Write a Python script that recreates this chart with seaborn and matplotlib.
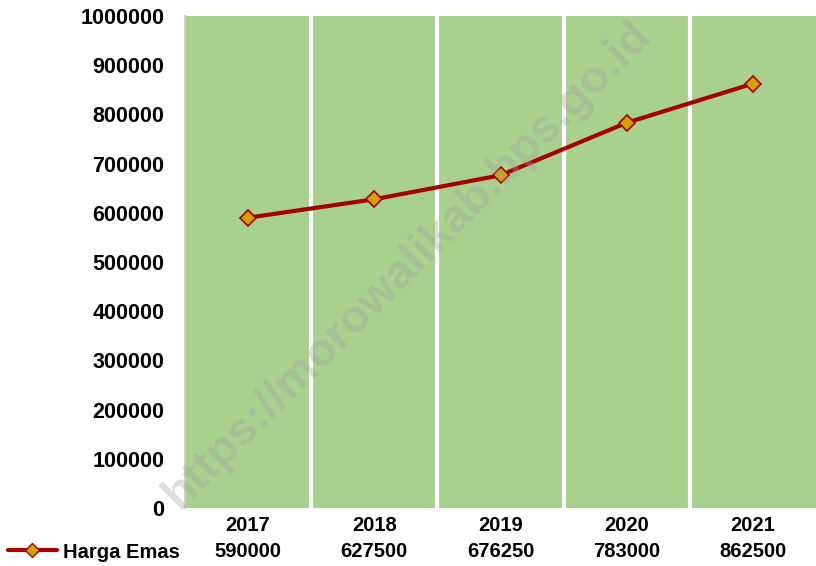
import matplotlib
matplotlib.use("Agg")
import matplotlib.pyplot as plt
import seaborn as sns
import pandas as pd
from matplotlib.lines import Line2D
from matplotlib.ticker import MultipleLocator, FixedLocator
import matplotlib.transforms as mtransforms

# data
tahun = ["2017", "2018", "2019", "2020", "2021"]
harga_emas = [590000, 627500, 676250, 783000, 862500]
nama_seri = "Harga Emas"

df = pd.DataFrame({"pos": range(len(tahun)), "harga": harga_emas})

sns.set_style("white")
plt.rcParams["font.family"] = ["Liberation Sans", "DejaVu Sans"]
plt.rcParams["font.weight"] = "bold"
plt.rcParams["text.color"] = "black"
plt.rcParams["xtick.color"] = "black"
plt.rcParams["ytick.color"] = "black"

fig = plt.figure(figsize=(8.16, 5.66), dpi=100)
ax = fig.add_axes([185 / 816, 58 / 566, 631 / 816, 492 / 566])

ax.set_facecolor("#a9d18e")
sns.lineplot(data=df, x="pos", y="harga", ax=ax, color="#a50000", linewidth=3,
             marker="D", markersize=8.5, markerfacecolor="#d4a000",
             markeredgecolor="#a50000", markeredgewidth=1.2, zorder=5)

ax.set_xlim(-0.5, len(tahun) - 0.5)
ax.set_ylim(0, 1000000)
ax.yaxis.set_major_locator(MultipleLocator(100000))
ax.yaxis.set_major_formatter(plt.FuncFormatter(lambda v, p: f"{int(v)}"))
ax.xaxis.set_major_locator(FixedLocator(range(len(tahun))))
ax.set_xticklabels(tahun)
ax.xaxis.set_minor_locator(FixedLocator([i + 0.5 for i in range(len(tahun) - 1)]))
ax.grid(which="minor", axis="x", color="white", linewidth=3)
ax.grid(which="major", visible=False)
ax.set_xlabel("")
ax.set_ylabel("")

for s in ["top", "right", "bottom"]:
    ax.spines[s].set_visible(False)
ax.spines["left"].set_color("#d0d0d0")
ax.spines["left"].set_linewidth(1.5)

ax.tick_params(axis="y", labelsize=15.5, length=0, pad=15)
ax.tick_params(axis="x", labelsize=14.5, length=0, pad=6)
for lb in ax.get_xticklabels() + ax.get_yticklabels():
    lb.set_fontweight("bold")
    lb.set_color("black")

# data table row
trans = mtransforms.blended_transform_factory(ax.transData, ax.transAxes)
for i, v in enumerate(harga_emas):
    ax.text(i, -0.088, str(v), transform=trans, ha="center", va="center",
            fontsize=14.5, fontweight="bold", color="black")

# legend key
key = Line2D([0], [0], color="#a50000", linewidth=3, marker="D", markersize=7,
             markerfacecolor="#d4a000", markeredgecolor="#a50000")
fig.legend([key], [nama_seri], loc="center left", bbox_to_anchor=(-0.012, 14 / 566),
           frameon=False, handlelength=2.4, handletextpad=0.3,
           prop={"size": 14.5, "weight": "bold"})

# watermark
fig.text(408 / 816, 1 - 265 / 566, "https://morowalikab.bps.go.id", rotation=45,
         ha="center", va="center", fontsize=34, fontweight="bold",
         color="#a0a0a0", alpha=0.35, zorder=10)

fig.savefig("out.png", dpi=100)
